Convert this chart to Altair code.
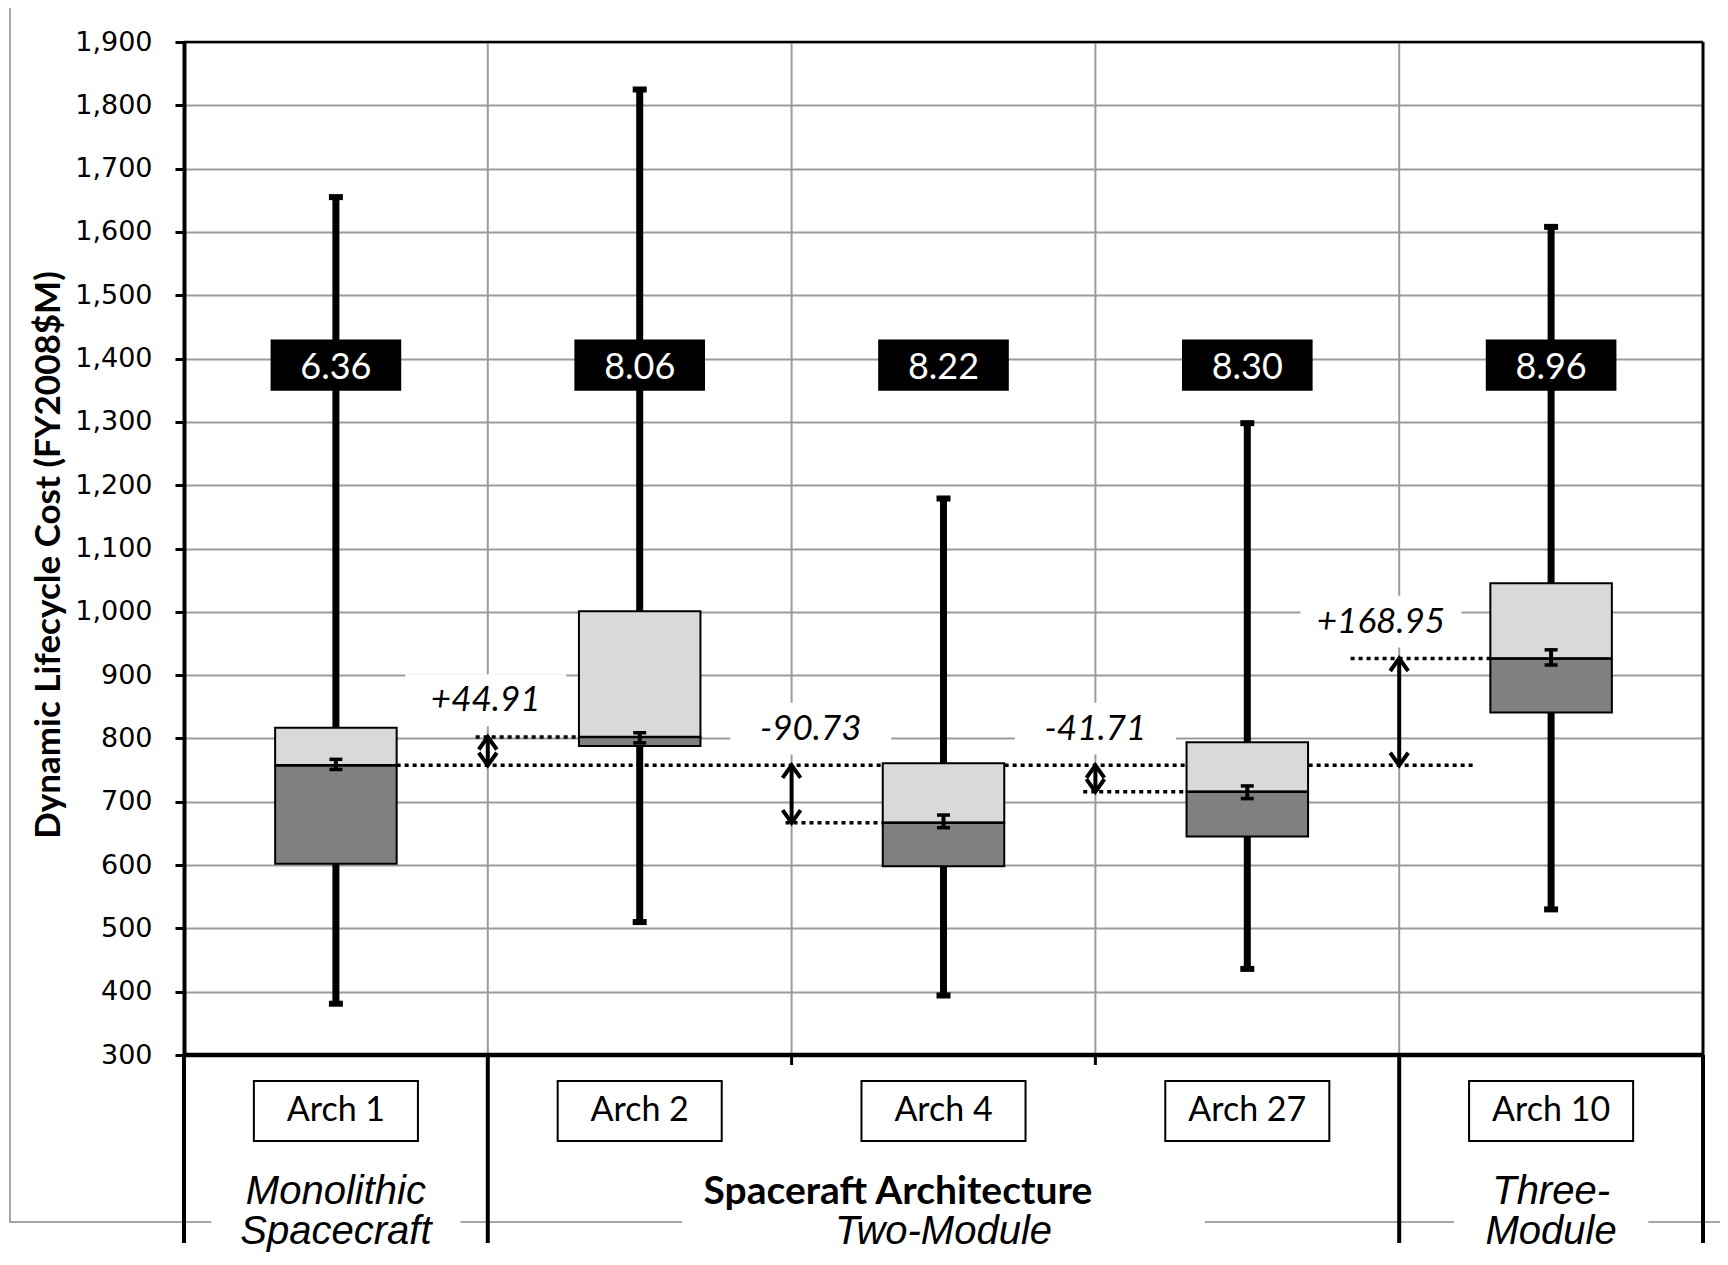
import altair as alt
import pandas as pd

# ---------------- data ----------------
arch = ["Arch 1", "Arch 2", "Arch 4", "Arch 27", "Arch 10"]
score = ["6.36", "8.06", "8.22", "8.30", "8.96"]
whisker_low = [381, 510, 394, 436, 530]
q1 = [602, 788, 598, 645, 841]
median = [757.5, 802.4, 666.8, 715.8, 926.4]
q3 = [817, 1001, 761, 794, 1045]
whisker_high = [1655, 1825, 1179, 1298, 1608]
mean = [759, 801, 669, 715, 928]
mean_err = [8, 8, 10, 10, 12]
diff_labels = ["+44.91", "-90.73", "-41.71", "+168.95"]
diff_values = [44.91, -90.73, -41.71, 168.95]
group_lines = [["Monolithic", "Spacecraft"], ["", "Two-Module"], ["Three-", "Module"]]
group_members = [[0], [1, 2, 3], [4]]
x_title = "Spaceraft Architecture"
y_title = "Dynamic Lifecycle Cost (FY2008$M)"
y_ticks = list(range(300, 1901, 100))

# ---------------- layout ----------------
W, H = 1519, 1013
BOX_HALF = 0.2
SCORE_HALF = 0.215
SCORE_Y0, SCORE_Y1, SCORE_Y = 1349, 1430, 1389.5
LABEL_HALF = 0.27
DOT_LEAD = [0.04, 0.02, 0.04, 0.16]
DIFF_SHIFT = [-0.007, 0.063, 0.0, -0.06]   # horizontal shift of the difference labels (category units)
GROUP_BG_HALF = [0.41, 0.86, 0.32]
FONT = "Lato"

xs = alt.Scale(domain=[0, 5], nice=False, zero=False)
ys = alt.Scale(domain=[300, 1900], nice=False, zero=False)
yaxis = alt.Axis(values=y_ticks, format=",.0f", title=y_title, grid=True,
                 gridColor="#9b9b9b", gridWidth=2, domainColor="black", domainWidth=4,
                 tickColor="black", tickWidth=3, tickSize=9,
                 labelFont="DejaVu Sans", labelFontSize=27, labelColor="black", labelPadding=23,
                 titleFont=FONT, titleFontSize=35, titleFontWeight="bold", titleColor="black",
                 titleX=-136, titleY=H / 2 + 6, titleAngle=-90, titleAlign="center",
                 titleBaseline="middle")


def X(f):
    return alt.X(f, type="quantitative", scale=xs, axis=None)


def Y(f):
    return alt.Y(f, type="quantitative", scale=ys, axis=yaxis)


n = len(arch)
cat = pd.DataFrame({
    "arch": arch, "score": score, "c": [i + 0.5 for i in range(n)],
    "lo": whisker_low, "q1": q1, "med": median, "q3": q3, "hi": whisker_high,
    "mean": mean, "err": mean_err,
})
cat["bx0"] = cat["c"] - BOX_HALF
cat["bx1"] = cat["c"] + BOX_HALF
cat["m0"] = cat["mean"] - cat["err"]
cat["m1"] = cat["mean"] + cat["err"]
cat["s0"] = cat["c"] - SCORE_HALF
cat["s1"] = cat["c"] + SCORE_HALF
cat["sy0"] = SCORE_Y0
cat["sy1"] = SCORE_Y1
cat["sy"] = SCORE_Y
cat["l0"] = cat["c"] - LABEL_HALF
cat["l1"] = cat["c"] + LABEL_HALF

base = median[0]
rows = []
for i, (lab, dv) in enumerate(zip(diff_labels, diff_values)):
    b = i + 1
    tgt = base + dv
    top, bot = max(base, tgt), min(base, tgt)
    ly = top + 58
    lx = b + DIFF_SHIFT[i]
    rows.append({"lab": lab, "b": b, "base": base, "tgt": tgt, "top": top, "bot": bot,
                 "lx": lx, "ly": ly, "bg0": ly - 41, "bg1": ly + 41,
                 "lx0": lx - 0.265, "lx1": lx + 0.265,
                 "dx0": b - DOT_LEAD[i], "dx1": b + 0.5 - BOX_HALF})
diff = pd.DataFrame(rows)

main_dot = pd.DataFrame({"x0": [0.5 + BOX_HALF], "x1": [n - 0.75], "y": [base]})

grid_v = pd.DataFrame({"x": [1, 2, 3, 4], "y0": 300, "y1": 1900})
frame_top = pd.DataFrame({"x0": [0], "x1": [n], "y": [1900]})
frame_right = pd.DataFrame({"x": [n], "y0": [300], "y1": [1900]})
frame_bottom = pd.DataFrame({"x0": [0], "x1": [n], "y": [300]})

# group boundaries (separators) and inner ticks
bounds = [0]
for g in group_members:
    bounds.append(g[-1] + 1)
sep = pd.DataFrame({"x": bounds})
inner = pd.DataFrame({"x": [i for i in range(1, n) if i not in bounds]})

grows, gbg = [], []
for gi, (lines, mem) in enumerate(zip(group_lines, group_members)):
    cx = sum(m + 0.5 for m in mem) / len(mem)
    gbg.append({"g0": cx - GROUP_BG_HALF[gi], "g1": cx + GROUP_BG_HALF[gi]})
    for li, t in enumerate(lines):
        if t:
            grows.append({"t": t, "cx": cx, "line": li})
gtext = pd.DataFrame(grows)
gbgdf = pd.DataFrame(gbg)
one = pd.DataFrame({"a": [0], "xt": [2.35]})

layers = []
# outer chart border
layers.append(alt.Chart(one).mark_rect(fill="transparent", stroke="#a6a6a6", strokeWidth=2).encode(
    x=alt.value(-174), x2=alt.value(W + 200), y=alt.value(-35), y2=alt.value(H + 167)))
# white backgrounds of group labels (break the border line)
layers.append(alt.Chart(gbgdf).mark_rect(fill="white").encode(
    x=X("g0"), x2="g1", y=alt.value(H + 118), y2=alt.value(H + 215)))
# vertical gridlines
layers.append(alt.Chart(grid_v).mark_rule(color="#9b9b9b", strokeWidth=2).encode(
    x=X("x"), y=Y("y0"), y2="y1"))
# white backgrounds for difference labels
layers.append(alt.Chart(diff).mark_rect(fill="white").encode(
    x=X("lx0"), x2="lx1", y=Y("bg0"), y2="bg1"))
# dotted reference lines
layers.append(alt.Chart(main_dot).mark_rule(color="black", strokeWidth=3.5, strokeDash=[4, 4]).encode(
    x=X("x0"), x2="x1", y=Y("y")))
layers.append(alt.Chart(diff).mark_rule(color="black", strokeWidth=3.5, strokeDash=[4, 4]).encode(
    x=X("dx0"), x2="dx1", y=Y("tgt")))
# whiskers
layers.append(alt.Chart(cat).mark_rule(color="black", strokeWidth=7).encode(
    x=X("c"), y=Y("lo"), y2="hi"))
layers.append(alt.Chart(cat).mark_tick(orient="horizontal", color="black", size=14, thickness=6, opacity=1).encode(
    x=X("c"), y=Y("lo")))
layers.append(alt.Chart(cat).mark_tick(orient="horizontal", color="black", size=14, thickness=6, opacity=1).encode(
    x=X("c"), y=Y("hi")))
# boxes
layers.append(alt.Chart(cat).mark_rect(fill="#808080", stroke="black", strokeWidth=2).encode(
    x=X("bx0"), x2="bx1", y=Y("q1"), y2="med"))
layers.append(alt.Chart(cat).mark_rect(fill="#d9d9d9", stroke="black", strokeWidth=2).encode(
    x=X("bx0"), x2="bx1", y=Y("med"), y2="q3"))
layers.append(alt.Chart(cat).mark_rule(color="black", strokeWidth=2.5).encode(
    x=X("bx0"), x2="bx1", y=Y("med")))
# mean with error bar
layers.append(alt.Chart(cat).mark_rule(color="black", strokeWidth=4).encode(
    x=X("c"), y=Y("m0"), y2="m1"))
layers.append(alt.Chart(cat).mark_tick(orient="horizontal", color="black", size=13, thickness=3.5, opacity=1).encode(
    x=X("c"), y=Y("m0")))
layers.append(alt.Chart(cat).mark_tick(orient="horizontal", color="black", size=13, thickness=3.5, opacity=1).encode(
    x=X("c"), y=Y("m1")))
# score boxes
layers.append(alt.Chart(cat).mark_rect(fill="black").encode(
    x=X("s0"), x2="s1", y=Y("sy0"), y2="sy1"))
layers.append(alt.Chart(cat).mark_text(font=FONT, fontSize=36, color="white", baseline="middle", align="center", dy=3).encode(
    x=X("c"), y=Y("sy"), text="score"))
# arrows
layers.append(alt.Chart(diff).mark_rule(color="black", strokeWidth=4).encode(
    x=X("b"), y=Y("bot"), y2="top"))
layers.append(alt.Chart(diff).mark_point(shape="M-1,1.4L0,0L1,1.4", filled=False, stroke="black",
                                         strokeWidth=4, size=324, opacity=1).encode(
    x=X("b"), y=Y("top")))
layers.append(alt.Chart(diff).mark_point(shape="M-1,-1.4L0,0L1,-1.4", filled=False, stroke="black",
                                         strokeWidth=4, size=324, opacity=1).encode(
    x=X("b"), y=Y("bot")))
layers.append(alt.Chart(diff).mark_text(font=FONT, fontSize=35, fontStyle="italic", color="black",
                                        baseline="middle", align="center").encode(
    x=X("lx"), y=Y("ly"), text="lab"))
# plot frame
layers.append(alt.Chart(frame_top).mark_rule(color="black", strokeWidth=2.5).encode(
    x=X("x0"), x2="x1", y=Y("y")))
layers.append(alt.Chart(frame_right).mark_rule(color="black", strokeWidth=3).encode(
    x=X("x"), y=Y("y0"), y2="y1"))
layers.append(alt.Chart(frame_bottom).mark_rule(color="black", strokeWidth=4.5).encode(
    x=X("x0"), x2="x1", y=Y("y")))
# category area below the axis
layers.append(alt.Chart(sep).mark_rule(color="black", strokeWidth=4).encode(
    x=X("x"), y=alt.value(H), y2=alt.value(H + 188)))
layers.append(alt.Chart(inner).mark_rule(color="black", strokeWidth=3).encode(
    x=X("x"), y=alt.value(H), y2=alt.value(H + 10)))
layers.append(alt.Chart(cat).mark_rect(fill="white", stroke="black", strokeWidth=2).encode(
    x=X("l0"), x2="l1", y=alt.value(H + 26), y2=alt.value(H + 86)))
layers.append(alt.Chart(cat).mark_text(font=FONT, fontSize=34, color="black", baseline="middle", align="center").encode(
    x=X("c"), y=alt.value(H + 56), text="arch"))
layers.append(alt.Chart(gtext).mark_text(font="Liberation Sans", fontSize=40, fontStyle="italic", color="black",
                                         baseline="alphabetic", align="center").encode(
    x=X("cx"), y=alt.value(H + 149), text="t").transform_filter("datum.line == 0"))
layers.append(alt.Chart(gtext).mark_text(font="Liberation Sans", fontSize=40, fontStyle="italic", color="black",
                                         baseline="alphabetic", align="center").encode(
    x=X("cx"), y=alt.value(H + 189), text="t").transform_filter("datum.line == 1"))
layers.append(alt.Chart(one).mark_text(font=FONT, fontSize=39, fontWeight="bold", color="black",
                                       baseline="alphabetic", align="center", text=x_title).encode(
    x=X("xt"), y=alt.value(H + 149)))

chart = alt.layer(*layers).properties(
    width=W, height=H,
    padding={"left": 176, "top": 34, "right": 17, "bottom": 202},
    autosize=alt.AutoSizeParams(type="none"),
).configure(background="white").configure_view(strokeWidth=0)

chart.save("out.html", embed_options={"renderer": "svg", "actions": False})
